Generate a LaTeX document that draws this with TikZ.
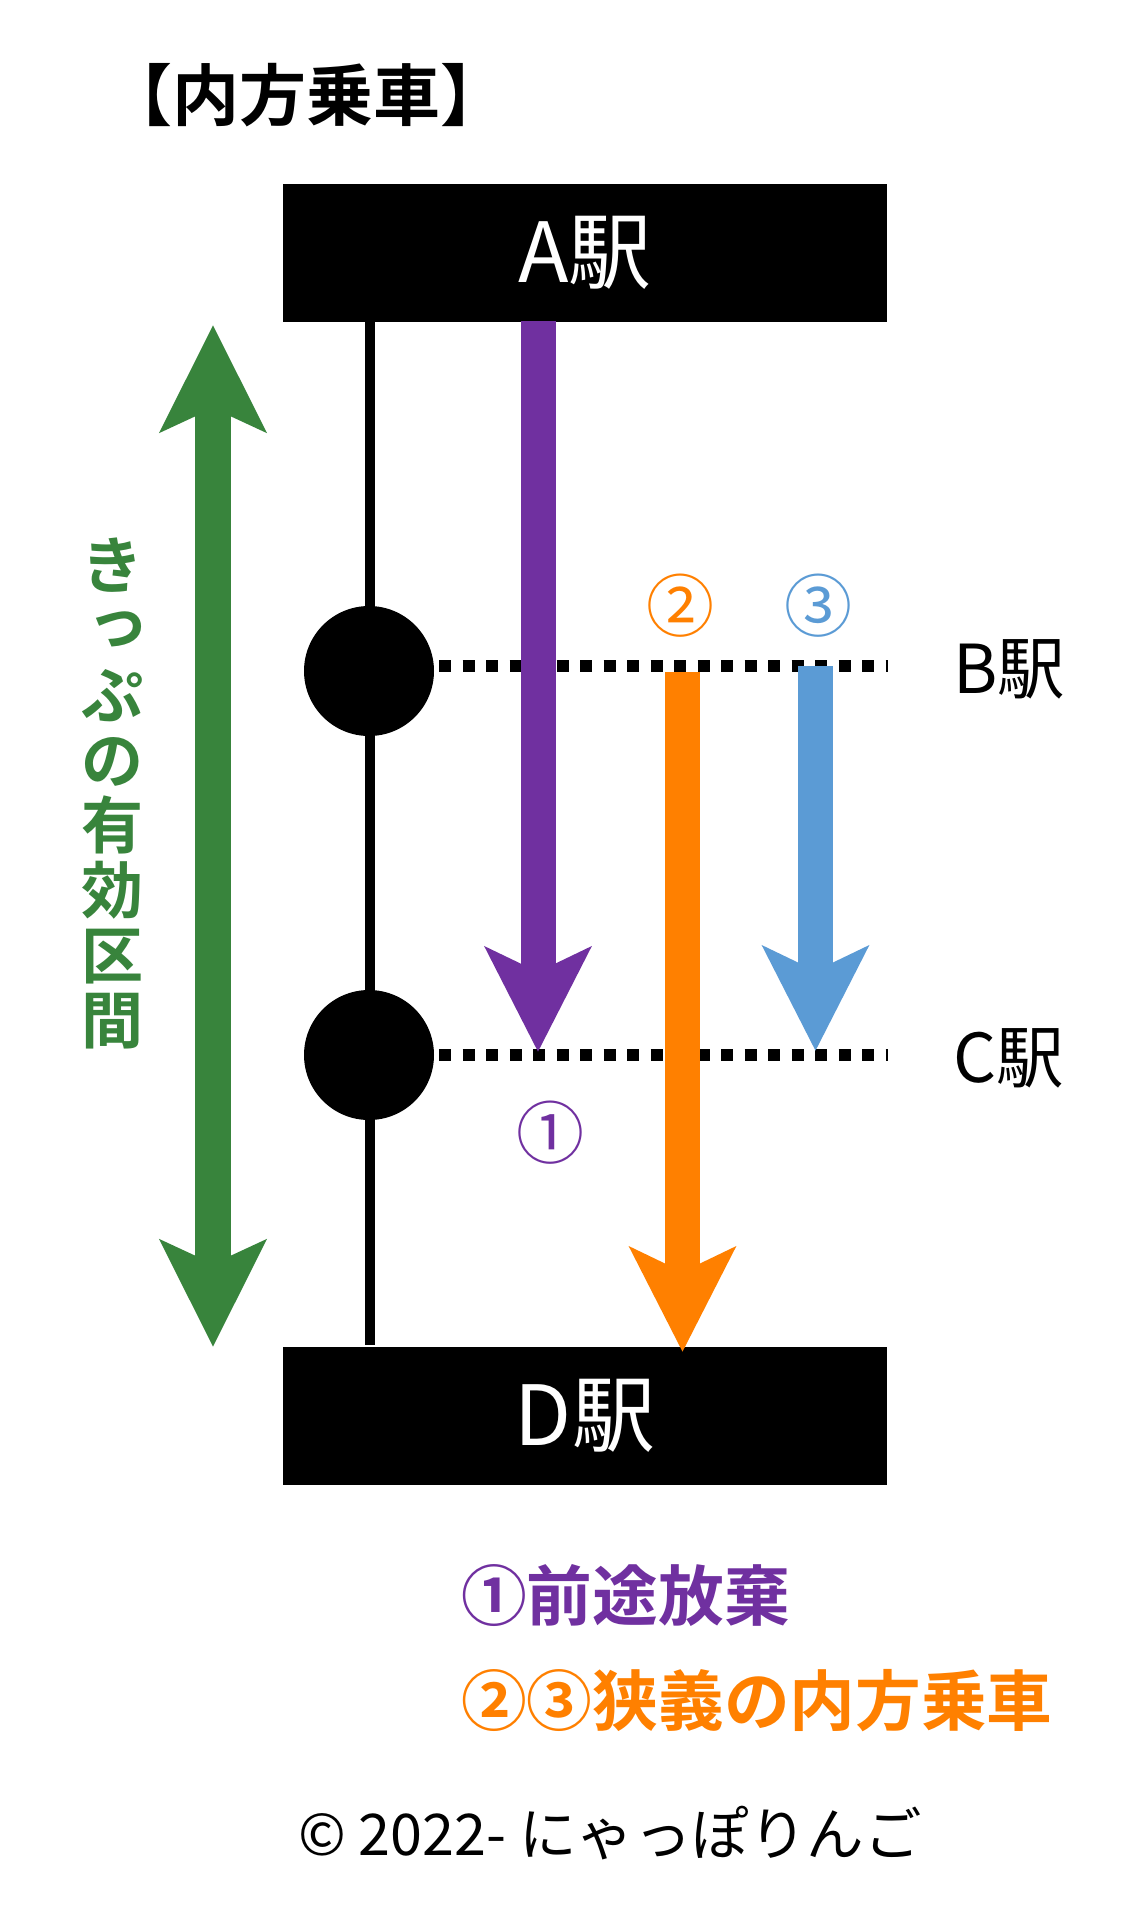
\documentclass[tikz,border=0pt]{standalone}
\usepackage{fontspec}
\setmainfont{Noto Sans CJK JP}[BoldFont={Noto Sans CJK JP Bold}]
\usetikzlibrary{arrows.meta}
\definecolor{cpurple}{HTML}{7030A0}
\definecolor{corange}{HTML}{FF8000}
\definecolor{cblue}{HTML}{5B9BD5}
\definecolor{cgreen}{HTML}{38843C}
\tikzset{
  stationbox/.style={fill=black,text=white,inner sep=0pt,minimum width=604pt,minimum height=138pt,font=\fontsize{83}{88}\selectfont},
  stationdot/.style={circle,fill=black,inner sep=0pt,minimum size=130pt},
  sidelabel/.style={inner sep=0pt,font=\fontsize{67.5}{72}\selectfont},
  numlabel/.style={inner sep=0pt,font=\fontsize{68}{72}\selectfont},
  legend/.style={inner sep=0pt,anchor=west,font=\bfseries\fontsize{65.7}{70}\selectfont},
  bigarrow/.style={line width=35pt,-{Stealth[length=104pt,width=104pt,inset=24pt]}},
  trackline/.style={line width=9.5pt},
  dotline/.style={line width=12.5pt,dash pattern=on 12pt off 11.5pt}
}
\begin{document}
\begin{tikzpicture}[x=1pt,y=-1pt]
\useasboundingbox (0,0) rectangle (1146,1920);
\fill[white] (0,0) rectangle (1146,1920);
\node[inner sep=0pt,font=\bfseries\fontsize{67}{70}\selectfont] (title) at (306,95) {【内方乗車】};
\node[stationbox] (A) at (585,252.5) {\raisebox{2.5pt}{A駅}};
\node[stationbox] (D) at (585,1416) {\raisebox{2.5pt}{D駅}};
\coordinate (trackTop) at (370,321);
\coordinate (trackBot) at (370,1345);
\draw[trackline] (trackTop) -- (trackBot);
\node[stationdot] (b) at (369,671) {};
\node[stationdot] (c) at (369,1055) {};
\coordinate (bS) at (439,666); \coordinate (bE) at (888,666);
\coordinate (cS) at (439,1055); \coordinate (cE) at (888,1055);
\draw[dotline] (bS) -- (bE);
\draw[dotline] (cS) -- (cE);
\node[sidelabel] (bl) at (1009,669) {B駅};
\node[sidelabel] (cl) at (1009,1058) {C駅};
\coordinate (p0) at (538,321); \coordinate (p1) at (538,1052);
\coordinate (o0) at (682.5,672); \coordinate (o1) at (682.5,1352);
\coordinate (u0) at (815.5,666); \coordinate (u1) at (815.5,1051);
\draw[bigarrow,cpurple] (p0) -- (p1);
\draw[bigarrow,corange] (o0) -- (o1);
\draw[bigarrow,cblue] (u0) -- (u1);
\coordinate (g0) at (213,325); \coordinate (g1) at (213,1347);
\draw[line width=36pt,cgreen,{Stealth[length=106pt,width=104pt,inset=23pt]}-{Stealth[length=106pt,width=104pt,inset=23pt]}] (g0) -- (g1);
\node[numlabel,text=cpurple] (n1) at (550,1133) {①};
\node[numlabel,text=corange] (n2) at (680,606) {②};
\node[numlabel,text=cblue] (n3) at (818,606) {③};
\node[inner sep=0pt,align=center,text=cgreen,font=\bfseries\fontsize{62}{65}\selectfont] (valid) at (112,793) {き\\\hspace*{12pt}\raisebox{9pt}{っ}\\ぷ\\の\\有\\効\\区\\間};
\node[legend,text=cpurple] (l1) at (461,1595) {①前途放棄};
\node[legend,text=corange] (l2) at (461,1701) {②③狭義の内方乗車};
\node[inner sep=0pt,font=\fontsize{57.5}{62}\selectfont] (copy) at (610,1833) {© 2022- にゃっぽりんご};
\end{tikzpicture}
\end{document}
